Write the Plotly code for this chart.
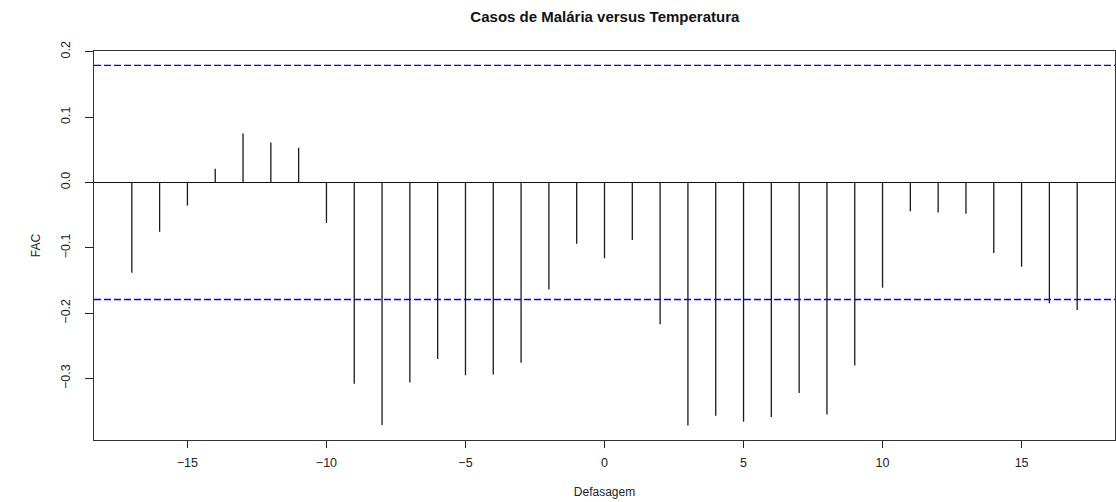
import plotly.graph_objects as go

# cross-correlation (FAC) of malaria cases vs temperature, lags -17..17
lags = list(range(-17, 18))
fac = [-0.138, -0.0755, -0.0355, 0.021, 0.075, 0.061, 0.053, -0.062, -0.308,
       -0.371, -0.306, -0.270, -0.295, -0.294, -0.276, -0.164, -0.094, -0.116,
       -0.088, -0.217, -0.372, -0.357, -0.366, -0.359, -0.322, -0.355, -0.280,
       -0.161, -0.044, -0.046, -0.048, -0.108, -0.129, -0.185, -0.195]
clim = 0.179  # confidence bound

title = "Casos de Malária versus Temperatura"
xlabel = "Defasagem"
ylabel = "FAC"
xticks = [-15, -10, -5, 0, 5, 10, 15]
yticks = [-0.3, -0.2, -0.1, 0.0, 0.1, 0.2]

# vertical spikes like R's type="h"
xs, ys = [], []
for lag, v in zip(lags, fac):
    xs += [lag, lag, None]
    ys += [0, v, None]

# R-style axis limits (4% padding)
ymin = min(min(fac), -clim)
ymax = max(max(fac), clim)
ypad = 0.04 * (ymax - ymin)
xpad = 0.04 * (max(lags) - min(lags))

fig = go.Figure()
fig.add_trace(go.Scatter(x=xs, y=ys, mode='lines',
                         line=dict(color='#1a1a1a', width=1.3),
                         showlegend=False, hoverinfo='skip'))
for c in (clim, -clim):
    fig.add_hline(y=c, line=dict(color='#0000ff', width=1.4, dash='7px,3px'))

fig.update_layout(
    width=1116, height=502,
    paper_bgcolor='white', plot_bgcolor='white',
    margin=dict(l=94, r=1, t=51, b=62),
    font=dict(family='Liberation Sans, Arial, sans-serif', size=12.5, color='#222222'),
    title=dict(text='<b>' + title + '</b>', x=0.542, xanchor='center',
               y=0.966, yanchor='middle', font=dict(size=15, color='#111111')),
    showlegend=False,
    hovermode=False,
)
fig.update_xaxes(
    range=[min(lags) - xpad, max(lags) + xpad],
    tickvals=xticks, ticks='outside', ticklen=7, tickcolor='#222222',
    ticklabelstandoff=4,
    showgrid=False, zeroline=False,
    showline=True, mirror=True, linecolor='#333333', linewidth=1,
    title=dict(text=xlabel, font=dict(size=12), standoff=18),
)
fig.update_yaxes(
    range=[ymin - ypad, ymax + ypad],
    tickvals=yticks, tickformat='.1f', tickangle=-90,
    ticks='outside', ticklen=8, tickcolor='#222222',
    ticklabelstandoff=10,
    showgrid=False, zeroline=True, zerolinecolor='#111111', zerolinewidth=1.3,
    showline=True, mirror=True, linecolor='#333333', linewidth=1,
    title=dict(text=ylabel, font=dict(size=12), standoff=15),
)

# drop the page's default body margin so the figure sits at the window origin
fig.write_html("out.html", config={'displayModeBar': False},
               post_script="document.body.style.margin='0';")
